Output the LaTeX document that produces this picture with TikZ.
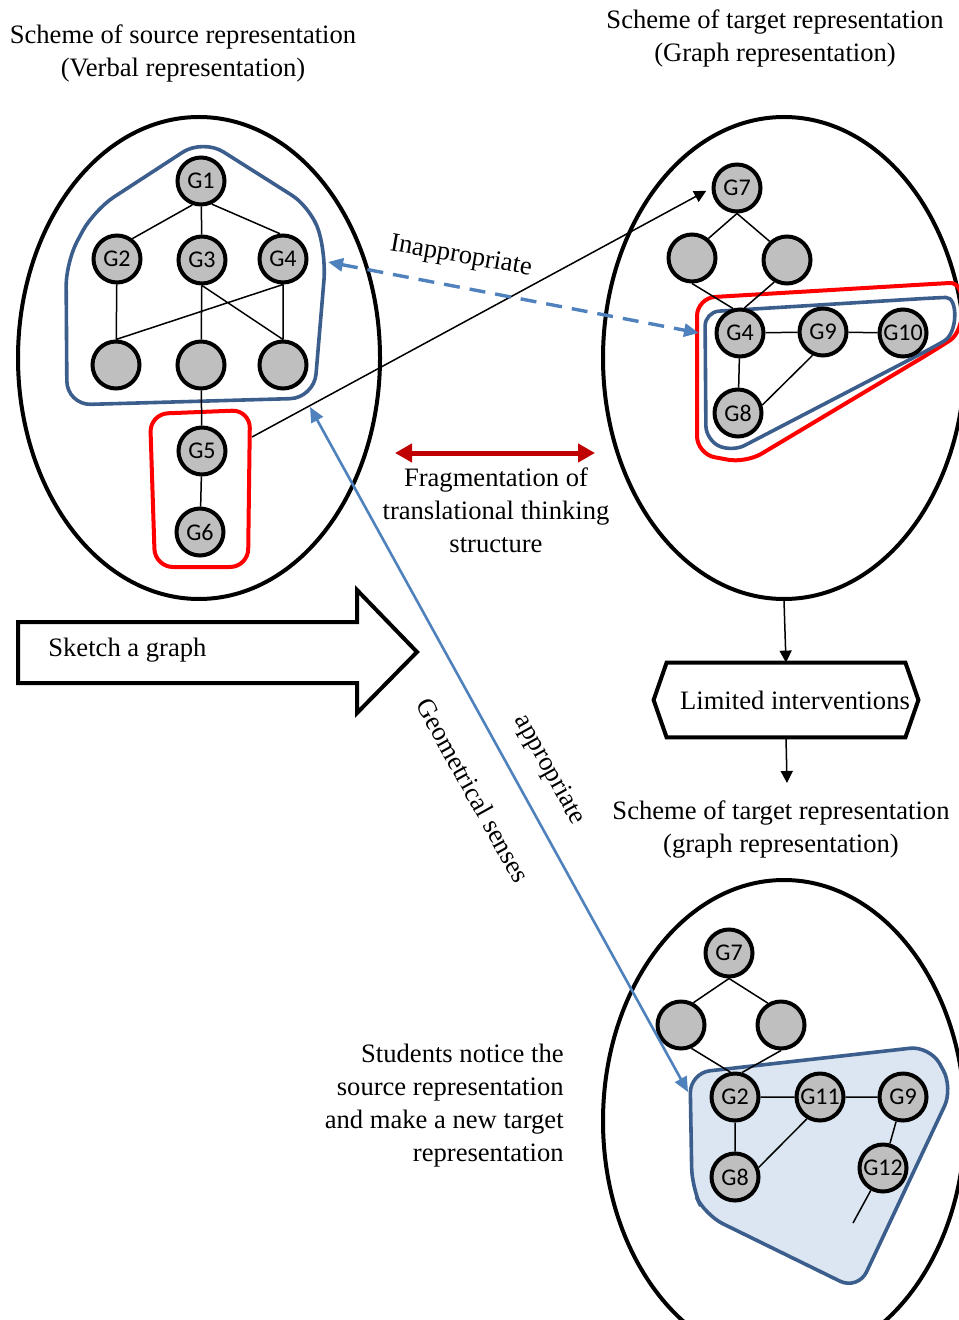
\documentclass[tikz,border=0pt]{standalone}
\usepackage{fontspec}
\setmainfont{Liberation Serif}
\newfontfamily\nodefont{Carlito}
\definecolor{OutlineBlue}{RGB}{59, 94, 140}
\definecolor{ArrowBlue}{RGB}{79, 129, 189}
\definecolor{FillBlue}{RGB}{220, 230, 242}
\definecolor{DarkRed}{RGB}{192, 0, 0}
\definecolor{NodeGray}{RGB}{191, 191, 191}
\usetikzlibrary{arrows.meta, positioning, shapes, calc}

\begin{document}
\begin{tikzpicture}[x=0.5pt, y=-0.5pt,
            txt/.style={align=center, inner sep=0pt, font=\fontsize{13.3}{16.5}\selectfont},
            gnode/.style={circle, draw, line width=2pt, fill=NodeGray, minimum size=23.5pt, inner sep=0pt, font=\nodefont\fontsize{12}{12}\selectfont},
            scheme/.style={ellipse, draw, line width=2pt, minimum width=181pt, minimum height=241pt, inner sep=0pt},
            edge/.style={line width=0.75pt},
            tip/.style={-{Triangle[length=6pt, width=6pt]}},
            blueline/.style={draw=OutlineBlue, line width=1.8pt},
            redline/.style={draw=red, line width=2pt},
            bluearrow/.style={draw=ArrowBlue, {Triangle[length=7.5pt, width=6.5pt]}-{Triangle[length=7.5pt, width=6.5pt]}},
        ]
            \useasboundingbox (0,0) rectangle (958,1320);

            \draw[blueline, fill=FillBlue, rounded corners=10pt] (690,1073) -- (930,1046) -- (953,1088) -- (858,1290) -- (705,1215) -- (692,1188) -- cycle;

            \node[scheme] (src) at (199,358) {};
            \node[scheme] (tgta) at (784,358) {};
            \node[scheme] (tgtb) at (784,1121) {};

            \node[txt] (srccap) at (183,53) {Scheme of source representation\\(Verbal representation)};
            \node[txt] (tgtcap) at (775,38) {Scheme of target representation\\(Graph representation)};
            \node[txt] (newcap) at (781,829) {Scheme of target representation\\(graph representation)};
            \node[txt] (frag) at (496,510) {Fragmentation of\\translational thinking\\structure};
            \node[txt, align=right, anchor=east] (notice) at (564,1106) {Students notice the\\source representation\\and make a new target\\representation};

            \draw[line width=2pt] (18,622) -- (357,622) -- (357,590) -- (417,652) -- (357,713) -- (357,683) -- (18,683) -- cycle;
            \node[txt, anchor=west] (sketch) at (48,650) {Sketch a graph};

            \node[txt, minimum width=132pt, minimum height=37pt] (limited) at (786,700) {\hspace*{9pt}Limited interventions};
            \draw[line width=2pt] (limited.west) -- ([xshift=6.5pt]limited.north west) -- ([xshift=-6.5pt]limited.north east) -- (limited.east) -- ([xshift=-6.5pt]limited.south east) -- ([xshift=6.5pt]limited.south west) -- cycle;
            \coordinate (capin) at (787,783);
            \draw[edge, tip] (tgta.south) -- (limited.north);
            \draw[edge, tip] (limited.south) -- (capin);

            \draw[blueline, rounded corners=12pt] (67,405) -- (66,262) -- (94,210) -- (203,139) -- (312,208) -- (326,256) -- (314,398) -- cycle;
            \draw[redline, rounded corners=9pt] (150,414) -- (250,410) -- (248,567) -- (155,567) -- cycle;
            \draw[redline, rounded corners=9pt] (697,298) -- (932,284) .. controls (968,282) and (966,330) .. (935,350) -- (746,463) -- (697,454) -- cycle;
            \draw[blueline, rounded corners=7pt] (705,312) -- (932,298) .. controls (958,297) and (958,333) .. (932,348) -- (732,452) -- (706,440) -- cycle;

            \node[gnode] (s1) at (201,181) {G1};
            \node[gnode] (s2) at (117,259) {G2};
            \node[gnode] (s3) at (202,260) {G3};
            \node[gnode] (s4) at (283,259) {G4};
            \node[gnode] (sa) at (116,365) {};
            \node[gnode] (sb) at (201,365) {};
            \node[gnode] (sc) at (283,365) {};
            \node[gnode] (s5) at (202,451) {G5};
            \node[gnode] (s6) at (200,532) {G6};
            \draw[edge] (s1.250) -- (s2.53) (s1) -- (s3) (s1.295) -- (s4.97)
                (s2) -- (sa) (s3) -- (sb) (s4) -- (sc)
                (s4.south) -- (sa.north) (s3.south) -- (sc.north)
                (sb) -- (s5) (s5) -- (s6);

            \node[gnode] (t7) at (737,188) {G7};
            \node[gnode] (tl) at (692,258) {};
            \node[gnode] (tr) at (787,260) {};
            \node[gnode] (t4) at (740,333) {G4};
            \node[gnode] (t9) at (823,332) {G9};
            \node[gnode] (t10) at (903,333) {G10};
            \node[gnode] (t8) at (738,413) {G8};
            \draw[edge] (t7.south) -- (tl.50) (t7.south) -- (tr.133)
                (tl.south) -- (t4.106) (tr.240) -- (t4.80)
                (t4) -- (t9) (t9) -- (t10) (t4) -- (t8) (t9.246) -- (t8.18);

            \node[gnode] (b7) at (729,953) {G7};
            \node[gnode] (bl) at (681,1025) {};
            \node[gnode] (br) at (781,1025) {};
            \node[gnode] (b2) at (735,1097) {G2};
            \node[gnode] (b11) at (820,1097) {G11};
            \node[gnode] (b9) at (903,1097) {G9};
            \node[gnode] (b8) at (735,1177) {G8};
            \node[gnode] (b12) at (883,1168) {G12};
            \coordinate (b12end) at (853,1223);
            \draw[edge] (b7.south) -- (bl.61) (b7.south) -- (br.121)
                (bl.294) -- (b2.101) (br.south) -- (b2.74)
                (b2) -- (b11) (b11) -- (b9) (b2) -- (b8) (b11.239) -- (b8.22)
                (b9) -- (b12) (b12) -- (b12end);

            \coordinate (redr) at (252,437);
            \draw[edge, tip, shorten >=3pt] (redr) -- (t7.west);

            \coordinate (inappl) at (328,262);
            \coordinate (inappr) at (699,333);
            \draw[bluearrow, line width=1.7pt, dash pattern=on 8pt off 5pt] (inappl) -- (inappr);
            \node[txt, rotate=-10] (inapp) at (461,257) {Inappropriate};

            \coordinate (geoup) at (310,407);
            \coordinate (geodown) at (688,1092);
            \draw[bluearrow, line width=1.3pt] (geoup) -- (geodown);
            \node[txt, rotate=-61] (appr) at (549,770) {appropriate};
            \node[txt, rotate=-61] (geo) at (473,790) {Geometrical senses};

            \coordinate (fragl) at (395,453);
            \coordinate (fragr) at (595,453);
            \draw[draw=DarkRed, line width=2.5pt, {Triangle[length=8.5pt, width=9pt]}-{Triangle[length=8.5pt, width=9pt]}] (fragl) -- (fragr);
        \end{tikzpicture}
\end{document}
